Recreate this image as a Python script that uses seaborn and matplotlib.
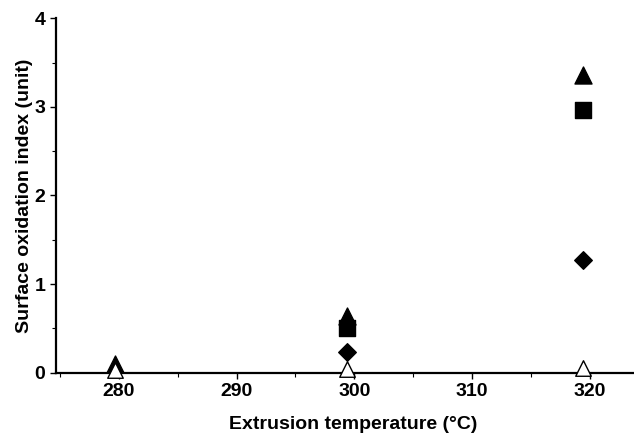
import matplotlib
matplotlib.use("Agg")
import matplotlib.pyplot as plt
import seaborn as sns
import pandas as pd
import numpy as np
from matplotlib.ticker import MultipleLocator

temps = [279.7, 299.4, 319.4]
filled_triangle = [0.10, 0.64, 3.36]
filled_square = [np.nan, 0.51, 2.97]
filled_diamond = [np.nan, 0.23, 1.27]
open_triangle = [0.03, 0.04, 0.05]

sns.set_theme(style="ticks")
plt.rcParams['font.family'] = ['Liberation Sans', 'DejaVu Sans']

fig, ax = plt.subplots(figsize=(6.34, 4.33), dpi=100)

series = [
    ("triangle", filled_triangle, "^", "black", 150),
    ("open_triangle", open_triangle, "^", "white", 125),
    ("square", filled_square, "s", "black", 130),
    ("diamond", filled_diamond, "D", "black", 80),
]
for name, vals, m, fc, s in series:
    df = pd.DataFrame({"T": temps, "v": vals}).dropna()
    sns.scatterplot(data=df, x="T", y="v", marker=m, s=s, color=fc,
                    edgecolor="black", linewidth=1.0, ax=ax, zorder=3, clip_on=False)

ax.set_xlim(274.65, 323.74)
ax.set_ylim(0, 4)
ax.xaxis.set_major_locator(MultipleLocator(10))
ax.xaxis.set_minor_locator(MultipleLocator(5))
ax.yaxis.set_major_locator(MultipleLocator(1))
ax.yaxis.set_minor_locator(MultipleLocator(0.5))
for s in ["top", "right"]:
    ax.spines[s].set_visible(False)
for s in ["left", "bottom"]:
    ax.spines[s].set_linewidth(1.6)
    ax.spines[s].set_color("black")
ax.tick_params(axis="both", which="major", length=4, width=1, labelsize=14,
               colors="black", labelcolor="black")
ax.tick_params(axis="both", which="minor", length=3, width=0.8, colors="black")
for lab in ax.get_xticklabels() + ax.get_yticklabels():
    lab.set_fontweight("bold")
ax.set_xlabel("Extrusion temperature (°C)", fontsize=14, fontweight="bold",
              labelpad=11, color="black")
ax.set_ylabel("Surface oxidation index (unit)", fontsize=14, fontweight="bold",
              labelpad=1, color="black")
ax.xaxis.label.set_x(0.514)

fig.subplots_adjust(left=0.088, right=1.0, top=0.958, bottom=0.139)
fig.savefig("out.png", dpi=100)
